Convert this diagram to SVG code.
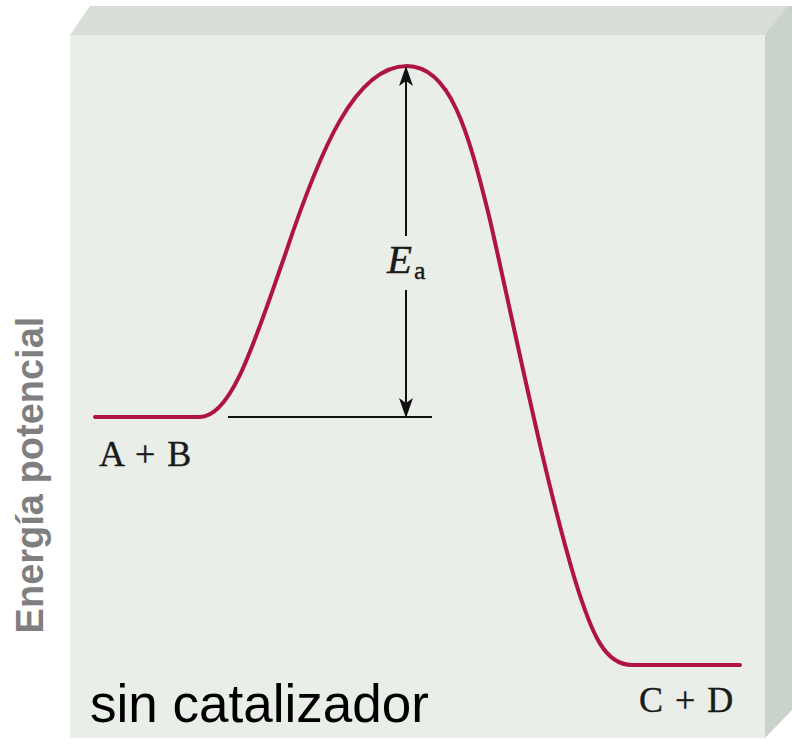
<svg xmlns="http://www.w3.org/2000/svg" width="792" height="750" viewBox="0 0 792 750">
<style>
.serif{font-family:"Liberation Serif","Times New Roman",serif;fill:#1a1a1a;stroke:#1a1a1a;stroke-width:0.4}
.curve{fill:none;stroke:#b01440;stroke-width:4;stroke-linecap:round;stroke-linejoin:round}
.line{stroke:#111;stroke-width:2;fill:none}
</style>
<defs>
<marker id="ah" markerWidth="20" markerHeight="14" refX="19" refY="7" orient="auto" markerUnits="userSpaceOnUse" viewBox="0 0 20 14">
<path d="M0,0 L20,7 L0,14 L5,7 Z" fill="#111"/>
</marker>
</defs>
<rect x="0" y="0" width="792" height="750" fill="#ffffff"/>
<g id="box">
<polygon points="70,35 90,6 792,6 765,35" fill="#d8ded7"/>
<polygon points="765,35 788,6 792,6 792,710 765,738" fill="#c9d2cb"/>
<rect x="70" y="35" width="695" height="703" fill="#e9eee9"/>
</g>
<g id="axis-label">
<text transform="translate(43,475) rotate(-90)" text-anchor="middle" font-family="Liberation Sans, Arial, sans-serif" font-weight="bold" font-size="38" fill="#7f7f7f">Energía potencial</text>
</g>
<g id="curve">
<path class="curve" d="M95,417 H200 C232,417 255,340 285,255 C320,150 355,66 407,66 C450,66 468,130 490,220 C515,330 545,480 575,580 C592,635 605,665 632,665 H740"/>
</g>
<g id="connectors">
<line class="line" x1="406" y1="236" x2="406" y2="67" marker-end="url(#ah)"/>
<line class="line" x1="406" y1="290" x2="406" y2="417" marker-end="url(#ah)"/>
<line class="line" x1="228" y1="417" x2="432" y2="417"/>
</g>
<g id="ea">
<text class="serif" x="387" y="273" font-size="41" font-style="italic">E</text>
<text class="serif" x="414" y="279" font-size="26">a</text>
</g>
<g id="reactants">
<text class="serif" x="99" y="466" font-size="36" letter-spacing="1.5">A + B</text>
</g>
<g id="products">
<text class="serif" x="639" y="712" font-size="36" letter-spacing="1.5">C + D</text>
</g>
<g id="caption">
<text x="90" y="722" font-family="Liberation Sans, Arial, sans-serif" font-size="53" fill="#000">sin catalizador</text>
</g>
</svg>
